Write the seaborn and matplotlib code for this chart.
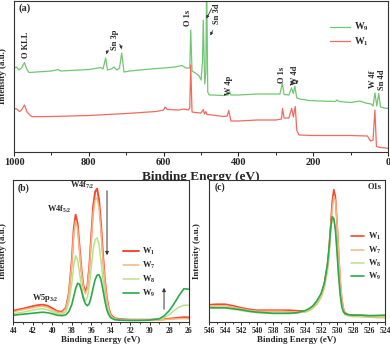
import matplotlib
matplotlib.use("Agg")
import matplotlib.pyplot as plt
import seaborn as sns

# (a) survey spectra, binding energy (eV) and intensity (a.u.)
survey_w9_be = [1000, 993, 987, 980, 972, 966, 960, 940, 900, 882, 875, 850, 800, 775, 768, 762,
                755, 750, 740, 733, 725, 718, 712, 706, 690, 650, 600, 570, 551, 540, 530, 527.5,
                524, 515, 505, 500, 496, 494, 490, 487, 485, 482, 478, 470, 440, 428, 424, 420,
                400, 350, 300, 289, 282.5, 278, 265, 258, 253, 249, 244, 236, 210, 180, 140, 137,
                130, 100, 75, 60, 45, 40, 35, 30, 25, 20, 10, 0]
survey_w9 = [84, 85, 82, 84, 89.5, 83, 79.5, 80, 81, 82.5, 81, 81.5, 82.5, 84, 84.5, 83,
             94, 82, 83, 85, 82, 84, 99, 80, 81, 82.5, 84, 85, 86.5, 84, 84, 122,
             81, 79, 76, 72, 90, 132, 68, 80, 175, 60, 57, 57, 56.5, 57, 60.5, 57,
             57, 58, 58, 58, 68.5, 57.5, 57, 64, 58.5, 66, 54, 53, 51.5, 51, 50.5, 52,
             50.5, 49.5, 51, 49, 48, 46, 59, 46, 58.5, 45, 44, 43.5]

survey_w1_be = [1000, 993, 985, 980, 972, 965, 955, 950, 900, 800, 700, 620, 600, 596, 590, 560,
                545, 534, 530, 527.5, 524, 515, 500, 494, 491, 487, 484, 470, 440, 430, 426, 420,
                400, 350, 300, 285, 282, 278, 265, 257.5, 253, 248, 244, 238, 200, 100, 55, 47,
                40, 35, 31, 20, 5, 0]
survey_w1 = [43.7, 43, 40.5, 42, 47, 40, 36, 35.3, 35.5, 36.5, 38.5, 40.5, 42, 45, 42.5, 42,
             43, 42, 44, 87, 40, 39.5, 39, 42.5, 38, 40.5, 37.5, 37, 35.5, 36, 41.5, 31,
             31, 32, 32, 33, 43.5, 34, 34, 43.7, 35, 45.5, 22, 17, 16.5, 16.5, 16, 11,
             12, 42, 5.5, 4.5, 4, 3.5]

# (b) W 4f region
w4f_be = [44, 43, 42, 41.5, 41, 40.5, 40, 39.5, 39, 38.6, 38.3, 38.0, 37.8, 37.6, 37.4, 37.2,
          37.0, 36.8, 36.6, 36.4, 36.2, 36.0, 35.8, 35.6, 35.4, 35.2, 35.0, 34.8, 34.6, 34.4,
          34.2, 34.0, 33.6, 33, 32, 31, 30, 29, 28.5, 28, 27.5, 27, 26.5, 26]
w4f_w1 = [11, 13, 15.5, 16.5, 17, 16, 13.5, 10.5, 10, 14, 28, 60, 92, 107, 98, 75,
          52, 36, 30, 35, 55, 85, 115, 130, 133, 122, 98, 68, 42, 24,
          13, 7, 3.5, 2.5, 2, 2, 2, 2.2, 2.5, 3, 3.5, 4, 4.5, 4.3]
w4f_w7 = [10, 12, 14, 15, 15.5, 14.5, 12, 9.5, 9, 13, 26, 56, 87, 101, 93, 71,
          49, 34, 28, 33, 52, 80, 108, 122, 124, 114, 91, 63, 39, 22,
          12, 6, 3, 2, 1.8, 1.8, 1.8, 2, 2.2, 2.5, 2.8, 3, 3.2, 3]
w4f_w8 = [8, 9.5, 11.5, 12.5, 13, 12, 10, 8, 7.5, 10, 19, 38, 56, 66, 62, 49,
          35, 25, 21, 24, 36, 54, 72, 82, 84, 77, 61, 43, 27, 16,
          9, 5, 2.5, 1.8, 1.5, 1.5, 1.8, 2.5, 4, 7, 11, 14.5, 16.5, 16.5]
w4f_w9 = [6.5, 7.5, 8.5, 9, 9.5, 9, 8, 6.5, 6, 7, 10, 17, 25, 33, 38.5, 37.5,
          31, 23, 18, 16, 18, 25, 34, 42, 46.5, 47, 42, 32, 21, 12,
          7, 4, 2, 1.5, 1.3, 1.3, 1.6, 3, 6, 11, 18, 26, 33, 32.5]

# (c) O 1s region
o1s_be = [546, 545, 544, 543, 542, 541, 540, 539, 538, 537, 536, 535, 534, 533.5, 533, 532.5,
          532, 531.6, 531.2, 531.0, 530.8, 530.6, 530.4, 530.2, 530.0, 529.8, 529.6, 529.4,
          529.2, 529.0, 528.6, 528, 527, 526, 525, 524]
o1s_w1 = [17, 17.5, 17.5, 16, 14, 12.5, 11.5, 11.5, 11.5, 11.5, 11.5, 11, 10.5, 12.5, 15.5, 20,
          27, 37, 56, 72, 95, 120, 132, 125, 100, 68, 40, 22, 13, 9, 7, 6.5, 6.3, 6, 6, 6]
o1s_w7 = [15.5, 16, 16, 14.5, 13, 11.5, 10.5, 10.5, 10.5, 10.5, 10, 9.5, 9.5, 11, 13.5, 17.5,
          24, 33, 50, 65, 87, 112, 125, 121, 100, 70, 42, 23, 13, 8, 6, 5, 5, 4.5, 4, 4]
o1s_w8 = [13.5, 13.5, 13.5, 12.5, 11, 10, 9, 8.5, 8, 8, 8, 8.5, 10, 12, 14.5, 19,
          26, 36, 54, 70, 91, 104, 103, 93, 72, 48, 28, 16, 10, 7, 6, 5.5, 5.5, 5, 5, 5]
o1s_w9 = [14, 14, 14, 13, 12, 10.5, 9.5, 9, 8.5, 8.5, 8.5, 9, 11, 13, 16, 21,
          28, 38, 57, 73, 93, 105, 103, 92, 70, 46, 27, 15, 10, 8, 7, 6.5, 6.5, 6, 6.2, 6.5]

sample_labels = ["W$_1$", "W$_7$", "W$_8$", "W$_9$"]
sample_colors = ["#ee4a30", "#fdb47c", "#b8e487", "#2ea84e"]

sns.set_style("ticks")
plt.rcParams["font.family"] = ["Liberation Serif", "DejaVu Serif"]
plt.rcParams["font.weight"] = "bold"
plt.rcParams["axes.labelweight"] = "bold"
plt.rcParams["mathtext.fontset"] = "custom"
plt.rcParams["mathtext.rm"] = "Liberation Serif:bold"
plt.rcParams["mathtext.it"] = "Liberation Serif:bold"
plt.rcParams["mathtext.bf"] = "Liberation Serif:bold"
plt.rcParams["axes.edgecolor"] = "#333333"
plt.rcParams["axes.linewidth"] = 0.8

fig = plt.figure(figsize=(3.9, 3.45), dpi=100)
ax_a = fig.add_axes([0.0359, 0.5594, 0.959, 0.4377])
ax_b = fig.add_axes([0.034, 0.0675, 0.4498, 0.4108])
ax_c = fig.add_axes([0.5359, 0.0675, 0.4513, 0.4108])

arrow = dict(arrowstyle="-|>", color="#333333", lw=0.6, mutation_scale=4)

# ---- panel (a)
sns.lineplot(x=survey_w9_be, y=survey_w9, ax=ax_a, color="#72c672", lw=0.9, label="W$_9$", sort=False)
sns.lineplot(x=survey_w1_be, y=survey_w1, ax=ax_a, color="#f26a5e", lw=0.9, label="W$_1$", sort=False)
ax_a.set_xlim(1000, 0)
ax_a.set_ylim(0, 151)
ax_a.set_xticks([1000, 800, 600, 400, 200, 0])
ax_a.set_xticks(range(0, 1001, 100), minor=True)
ax_a.set_yticks([])
ax_a.tick_params(axis="x", labelsize=7.5, length=3, width=0.8, pad=1.5)
ax_a.tick_params(axis="x", which="minor", length=2, width=0.7)
ax_a.set_xlabel("Binding Energy (eV)", fontsize=9.5)
ax_a.set_ylabel("Intensity (a.u.)", fontsize=6.5)
ax_a.xaxis.set_label_coords(0.5, -0.125)
ax_a.yaxis.set_label_coords(-0.02, 0.5)
ax_a.text(0.013, 0.955, "(a)", transform=ax_a.transAxes, fontsize=7.5, va="center")
ax_a.legend(loc="upper left", bbox_to_anchor=(0.832, 0.9), frameon=False, fontsize=7,
            handlelength=2.1, handletextpad=0.4, borderpad=0, labelspacing=0.2)

lab = dict(rotation=90, fontsize=6, ha="center", va="center")
ax_a.text(968, 107, "O KLL", **lab)
ax_a.text(730, 112, "Sn 3p", **lab)
ax_a.annotate("", xy=(754, 95), xytext=(743, 104), arrowprops=dict(arrow, connectionstyle="arc3,rad=0.2"))
ax_a.annotate("", xy=(712, 100), xytext=(722, 110), arrowprops=dict(arrow, connectionstyle="arc3,rad=-0.2"))
ax_a.text(535, 134, "O 1s", **lab)
ax_a.text(457, 138, "Sn 3d", **lab)
ax_a.annotate("", xy=(489, 131), xytext=(468, 146), arrowprops=arrow)
ax_a.annotate("", xy=(478, 114), xytext=(466, 124), arrowprops=arrow)
ax_a.text(424, 67, "W 4p", **lab)
ax_a.text(284, 77, "O 1s", **lab)
ax_a.text(249, 77, "W 4d", **lab)
ax_a.annotate("", xy=(257, 67), xytext=(257, 72), arrowprops=arrow)
ax_a.annotate("", xy=(244, 68), xytext=(244, 72), arrowprops=arrow)
ax_a.text(39, 73, "W 4f", **lab)
ax_a.text(17, 72, "Sn 4d", **lab)

# ---- panel (b)
for vals, name, col, lw in zip([w4f_w1, w4f_w7, w4f_w8, w4f_w9], sample_labels, sample_colors,
                               [1.4, 1.1, 1.1, 1.2]):
    sns.lineplot(x=w4f_be, y=vals, ax=ax_b, color=col, lw=lw, label=name, sort=False)
ax_b.set_xlim(44, 26)
ax_b.set_ylim(0, 141.7)
ax_b.set_xticks(range(26, 45, 2))
ax_b.set_xticks(range(26, 45, 1), minor=True)
ax_b.set_yticks([])
ax_b.set_xlabel("Binding Energy (eV)", fontsize=6.5)
ax_b.set_ylabel("Intensity (a.u.)", fontsize=6.5)
ax_b.xaxis.set_label_coords(0.5, -0.1)
ax_b.yaxis.set_label_coords(-0.038, 0.5)
ax_b.text(0.027, 0.943, "(b)", transform=ax_b.transAxes, fontsize=7, va="center")
ax_b.text(36.95, 136.5, "W4f$_{7/2}$", fontsize=6, ha="center", va="center")
ax_b.text(39.3, 112.5, "W4f$_{5/2}$", fontsize=6, ha="center", va="center")
ax_b.text(40.7, 24, "W5p$_{3/2}$", fontsize=6, ha="center", va="center")
ax_b.annotate("", xy=(34.38, 63.7), xytext=(34.38, 133.7), arrowprops=dict(arrow, lw=0.7, mutation_scale=5))
ax_b.annotate("", xy=(28.53, 36.7), xytext=(28.53, 9.7), arrowprops=dict(arrow, lw=0.7, mutation_scale=5))
ax_b.legend(loc="upper left", bbox_to_anchor=(0.603, 0.565), frameon=False, fontsize=6,
            handlelength=1.9, handletextpad=0.4, borderpad=0, labelspacing=0.35)

# ---- panel (c)
for vals, name, col, lw in zip([o1s_w1, o1s_w7, o1s_w8, o1s_w9], sample_labels, sample_colors,
                               [1.2, 1.1, 1.1, 1.2]):
    sns.lineplot(x=o1s_be, y=vals, ax=ax_c, color=col, lw=lw, label=name, sort=False)
ax_c.set_xlim(546, 524)
ax_c.set_ylim(0, 141.7)
ax_c.set_xticks(range(524, 547, 2))
ax_c.set_xticks(range(524, 547, 1), minor=True)
ax_c.set_yticks([])
ax_c.set_xlabel("Binding Energy (eV)", fontsize=6.5)
ax_c.set_ylabel("Intensity (a.u.)", fontsize=6.5)
ax_c.xaxis.set_label_coords(0.5, -0.1)
ax_c.yaxis.set_label_coords(-0.045, 0.5)
ax_c.text(0.0625, 0.95, "(c)", transform=ax_c.transAxes, fontsize=7, ha="center", va="center")
ax_c.text(0.983, 0.95, "O1s", transform=ax_c.transAxes, fontsize=6, ha="right", va="center")
ax_c.legend(loc="upper left", bbox_to_anchor=(0.784, 0.668), frameon=False, fontsize=6,
            handlelength=1.6, handletextpad=0.4, borderpad=0, labelspacing=0.25)

for ax in (ax_b, ax_c):
    ax.tick_params(axis="x", labelsize=5.5, length=2.5, width=0.7, pad=1)
    ax.tick_params(axis="x", which="minor", length=1.5, width=0.6)

fig.savefig("out.png", dpi=100)
